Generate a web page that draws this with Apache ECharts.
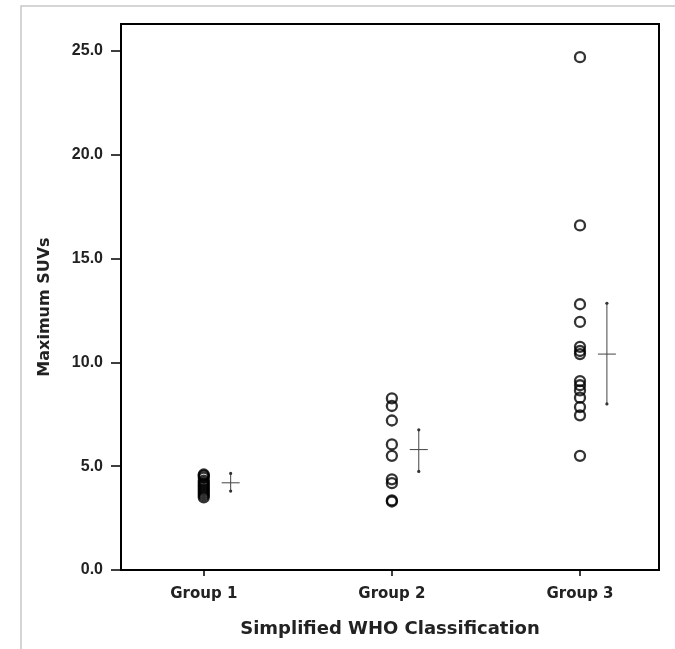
<!DOCTYPE html>
<html>
<head>
<meta charset="utf-8">
<style>html,body{margin:0;padding:0;background:#fff;}#c{width:675px;height:649px;}</style>
<script src="https://cdn.jsdelivr.net/npm/echarts@6/dist/echarts.min.js"></script>
</head>
<body>
<div id="c"></div>
<script>
const categories = ['Group 1', 'Group 2', 'Group 3'];
const yTicks = [0, 5, 10, 15, 20, 25];
const group1 = [4.6, 4.55, 4.45, 4.3, 4.2, 4.1, 4.0, 3.9, 3.8, 3.7, 3.6, 3.5];
const group2 = [8.27, 7.9, 7.2, 6.05, 5.5, 4.37, 4.18, 3.35, 3.3];
const group3 = [24.7, 16.6, 12.8, 11.95, 10.75, 10.55, 10.4, 9.1, 8.9, 8.65, 8.3, 7.85, 7.45, 5.5];
const means = [4.2, 5.8, 10.4];
const lowers = [3.8, 4.75, 8.0];
const uppers = [4.65, 6.75, 12.85];
const crossOffset = 0.143;

const groups = [group1, group2, group3];
const pointData = [];
groups.forEach((g, i) => g.forEach(v => pointData.push([i + 1, v])));
const errData = means.map((m, i) => [i + 1 + crossOffset, m, lowers[i], uppers[i]]);

const chart = echarts.init(document.getElementById('c'));
chart.setOption({
  animation: false,
  backgroundColor: '#fff',
  graphic: [{
    type: 'polyline', silent: true, z: -1,
    shape: { points: [[21, 649], [21, 6], [675, 6]] },
    style: { stroke: '#c8c8c8', lineWidth: 1.5, fill: null }
  }],
  grid: { left: 121, right: 16, top: 24, bottom: 79, show: true, borderColor: '#000', borderWidth: 2, backgroundColor: 'transparent' },
  xAxis: {
    type: 'value', min: 0.56, max: 3.42,
    name: 'Simplified WHO Classification', nameLocation: 'middle', nameGap: 50,
    nameTextStyle: { fontFamily: 'DejaVu Sans', fontWeight: 'bold', fontSize: 18, color: '#222' },
    axisLine: { show: true, lineStyle: { color: '#000', width: 2 } },
    axisTick: { show: true, customValues: [1, 2, 3], length: 6, lineStyle: { color: '#000', width: 1.5 } },
    axisLabel: { customValues: [1, 2, 3], formatter: v => categories[Math.round(v) - 1], margin: 17,
      fontFamily: 'DejaVu Sans', fontWeight: 'bold', fontSize: 15, color: '#222' },
    splitLine: { show: false }
  },
  yAxis: {
    type: 'value', min: 0, max: 26.3,
    name: 'Maximum SUVs', nameLocation: 'middle', nameGap: 68,
    nameTextStyle: { fontFamily: 'DejaVu Sans', fontWeight: 'bold', fontSize: 16, color: '#222', padding: [0, 20, 0, 0] },
    axisLine: { show: true, lineStyle: { color: '#000', width: 2 } },
    axisTick: { show: true, customValues: yTicks, length: 10, lineStyle: { color: '#000', width: 1.5 } },
    axisLabel: { customValues: yTicks, formatter: v => v.toFixed(1), margin: 18,
      fontFamily: 'Liberation Sans', fontWeight: 'bold', fontSize: 16, color: '#222' },
    splitLine: { show: false }
  },
  series: [{
    type: 'scatter',
    data: pointData,
    symbol: 'circle', symbolSize: 10,
    itemStyle: { color: 'rgba(255,255,255,0)', borderColor: '#000', borderWidth: 2.3 }
  }, {
    type: 'custom',
    data: errData,
    renderItem: (params, api) => {
      const x = api.value(0);
      const c = api.coord([x, api.value(1)]);
      const lo = api.coord([x, api.value(2)]);
      const hi = api.coord([x, api.value(3)]);
      const st = { stroke: '#444', lineWidth: 1 };
      return { type: 'group', children: [
        { type: 'line', shape: { x1: lo[0], y1: lo[1], x2: hi[0], y2: hi[1] }, style: st },
        { type: 'line', shape: { x1: c[0] - 9, y1: c[1], x2: c[0] + 9, y2: c[1] }, style: st },
        { type: 'circle', shape: { cx: lo[0], cy: lo[1], r: 1.6 }, style: { fill: '#333' } },
        { type: 'circle', shape: { cx: hi[0], cy: hi[1], r: 1.6 }, style: { fill: '#333' } }
      ]};
    }
  }]
});
</script>
</body>
</html>
